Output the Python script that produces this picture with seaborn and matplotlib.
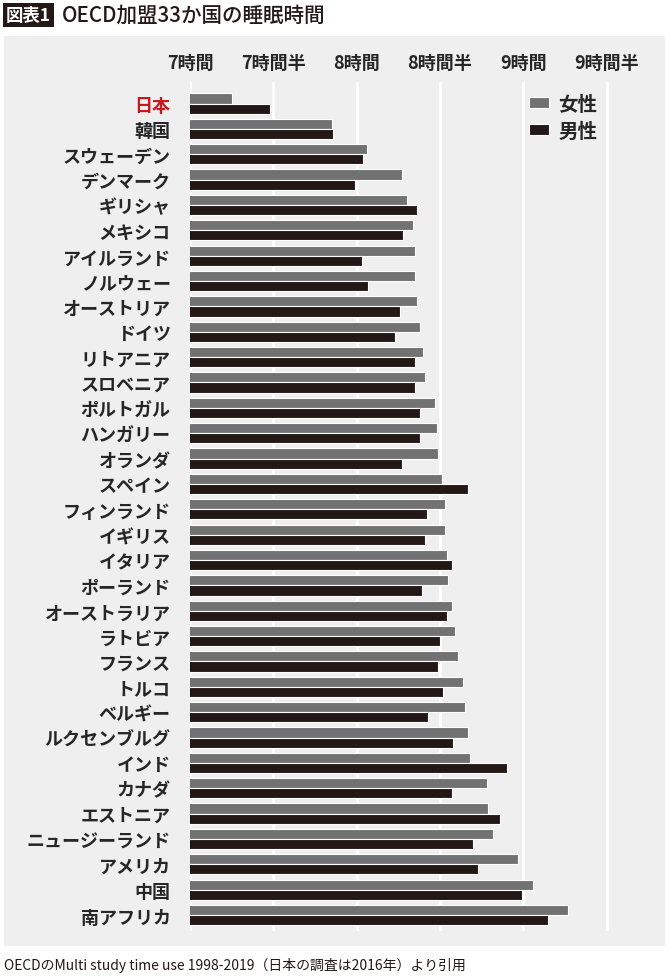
import pandas as pd
import numpy as np
import seaborn as sns
import matplotlib.pyplot as plt
from matplotlib.patches import Rectangle

countries = ['日本', '韓国', 'スウェーデン', 'デンマーク', 'ギリシャ', 'メキシコ', 'アイルランド',
             'ノルウェー', 'オーストリア', 'ドイツ', 'リトアニア', 'スロベニア', 'ポルトガル',
             'ハンガリー', 'オランダ', 'スペイン', 'フィンランド', 'イギリス', 'イタリア',
             'ポーランド', 'オーストラリア', 'ラトビア', 'フランス', 'トルコ', 'ベルギー',
             'ルクセンブルグ', 'インド', 'カナダ', 'エストニア', 'ニュージーランド', 'アメリカ',
             '中国', '南アフリカ']
# sleep hours (decimal)
female = [7.25, 7.85, 8.06, 8.27, 8.30, 8.34, 8.35, 8.35, 8.36, 8.38, 8.40, 8.41, 8.47,
          8.48, 8.49, 8.51, 8.53, 8.53, 8.54, 8.55, 8.57, 8.59, 8.61, 8.64, 8.65, 8.67,
          8.68, 8.78, 8.79, 8.82, 8.97, 9.06, 9.27]
male = [7.48, 7.86, 8.04, 7.99, 8.36, 8.28, 8.03, 8.07, 8.26, 8.23, 8.35, 8.35, 8.38,
        8.38, 8.27, 8.67, 8.42, 8.41, 8.57, 8.39, 8.54, 8.50, 8.49, 8.52, 8.43, 8.58,
        8.90, 8.57, 8.86, 8.70, 8.73, 8.99, 9.15]
tick_vals = [7, 7.5, 8, 8.5, 9, 9.5]
tick_labels = ['7時間', '7時間半', '8時間', '8時間半', '9時間', '9時間半']

df = pd.DataFrame({
    'country': countries * 2,
    'sex': ['女性'] * len(countries) + ['男性'] * len(countries),
    'hours': female + male,
})

sns.set_style('white')
plt.rcParams['font.family'] = ['Noto Sans CJK JP', 'DejaVu Sans']

W, H = 670, 978
fig = plt.figure(figsize=(W / 100, H / 100), dpi=100, facecolor='white')

# light gray panel behind the chart
fig.patches.append(Rectangle((4 / W, 1 - 947 / H), 661 / W, 910 / H,
                             transform=fig.transFigure, facecolor='#efefef',
                             edgecolor='none', zorder=-10))

ax = fig.add_axes([190 / W, 1 - 932 / H, 460 / W, 849 / H])
ax.set_facecolor('none')

sns.barplot(data=df, y='country', x='hours', hue='sex', orient='h',
            palette={'女性': '#727272', '男性': '#231815'}, width=0.8,
            edgecolor='white', linewidth=0.8, saturation=1, ax=ax)

ax.set_xlim(7, 9.761)
ax.set_ylim(32.63, -0.85)
ax.set_xticks(tick_vals)
ax.set_xticklabels(tick_labels)
ax.xaxis.tick_top()
ax.tick_params(axis='x', length=0, pad=7, labelsize=13)
ax.tick_params(axis='y', length=0, pad=14, labelsize=13.0)
for lab in ax.get_xticklabels() + ax.get_yticklabels():
    lab.set_fontweight('bold')
ax.get_yticklabels()[0].set_color('#c9171e')

ax.grid(axis='x', color='white', linewidth=2)
ax.grid(axis='y', visible=False)
ax.set_axisbelow(True)
sns.despine(ax=ax, left=True, bottom=True)
ax.spines['top'].set_visible(False)
ax.set_xlabel('')
ax.set_ylabel('')

ax.legend(loc='upper left', bbox_to_anchor=(0.699, 1.006), frameon=False,
          fontsize=14, handlelength=1.05, handleheight=0.5, handletextpad=0.45,
          labelspacing=0.4)
for t in ax.get_legend().get_texts():
    t.set_fontweight('bold')

# title
fig.text(6 / W, 1 - 16 / H, '図表1', color='white', fontsize=12.5, fontweight='bold',
         va='center', ha='left',
         bbox=dict(facecolor='#231815', edgecolor='none', pad=2.5))
fig.text(62 / W, 1 - 16 / H, 'OECD加盟33か国の睡眠時間', color='#231815', fontsize=14.8,
         fontweight='medium', va='center', ha='left')

# source note
fig.text(4 / W, 1 - 966 / H, 'OECDのMulti study time use 1998-2019（日本の調査は2016年）より引用',
         color='#231815', fontsize=10, va='center', ha='left')

fig.savefig('out.png', dpi=100, facecolor='white')
